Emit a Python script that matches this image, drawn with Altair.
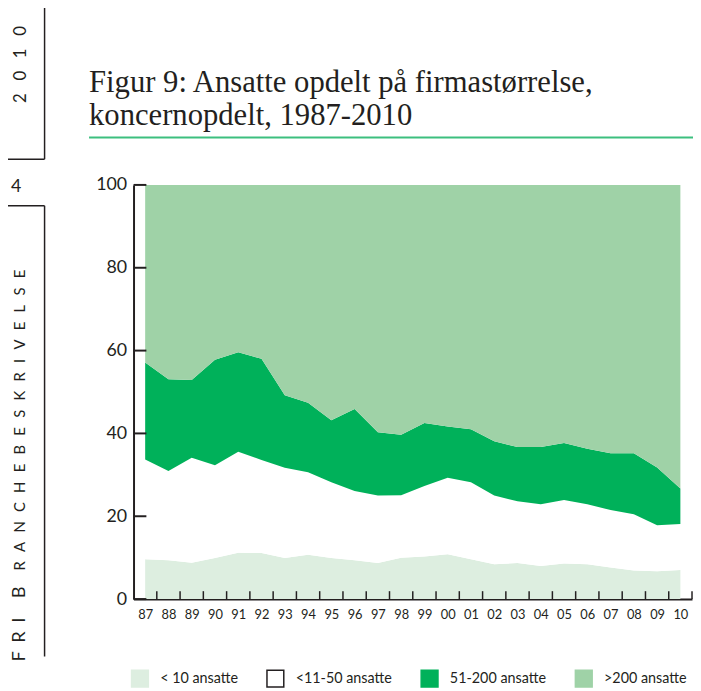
import altair as alt
import pandas as pd

# ---------------- data ----------------
years = ["87", "88", "89", "90", "91", "92", "93", "94", "95", "96", "97", "98",
         "99", "00", "01", "02", "03", "04", "05", "06", "07", "08", "09", "10"]
categories = ["< 10 ansatte", "<11-50 ansatte", "51-200 ansatte", ">200 ansatte"]
colors = ["#ddeee0", "#ffffff", "#00b15a", "#9fd2a7"]

share_lt10 = [9.6, 9.4, 8.8, 9.9, 11.2, 11.1, 9.9, 10.7, 9.9, 9.4, 8.7, 10.0,
              10.3, 10.8, 9.6, 8.4, 8.7, 8.0, 8.6, 8.4, 7.6, 6.9, 6.7, 7.0]
share_11_50 = [24.1, 21.5, 25.3, 22.4, 24.4, 22.5, 21.8, 19.9, 18.3, 16.7, 16.3, 15.1,
               17.0, 18.5, 18.6, 16.6, 14.9, 14.9, 15.3, 14.5, 13.9, 13.6, 11.1, 11.1]
share_51_200 = [23.4, 22.2, 18.8, 25.5, 24.0, 24.4, 17.5, 16.8, 15.0, 19.8, 15.3, 14.6,
                15.2, 12.4, 12.8, 13.1, 13.1, 13.8, 13.8, 13.4, 13.7, 14.7, 14.0, 8.6]
share_gt200 = [42.9, 46.9, 47.1, 42.2, 40.4, 42.0, 50.8, 52.6, 56.8, 54.1, 59.7, 60.3,
               57.5, 58.3, 59.0, 61.9, 63.3, 63.3, 62.3, 63.7, 64.8, 64.8, 68.2, 73.3]
y_ticks = [0, 20, 40, 60, 80, 100]

title_lines = ["Figur 9: Ansatte opdelt på firmastørrelse,", "koncernopdelt, 1987-2010"]
side_year = "2010"
side_page = "4"
side_word_a = "FRI"
side_word_b = "B"
side_word_c = "RANCHEBESKRIVELSE"

# ---------------- tables ----------------
series = [share_lt10, share_11_50, share_51_200, share_gt200]
rows = []
for i, yr in enumerate(years):
    for k, cat in enumerate(categories):
        rows.append({"idx": i, "year": yr, "cat": cat, "ord": k, "share": series[k][i]})
df = pd.DataFrame(rows)
ticks_df = pd.DataFrame({"v": y_ticks})
bounds_df = pd.DataFrame({"b": [i + 0.5 for i in range(len(years))]})

W, H = 565, 419
FONT = "Lato"
INK = "#231f20"

label_expr = "[" + ",".join(f"'{y}'" for y in years) + "][datum.value]"
x_scale = alt.Scale(domain=[-0.5, len(years) - 0.5], nice=False, zero=False)
y_scale = alt.Scale(domain=[0, 100], nice=False)

x_axis = alt.Axis(values=list(range(len(years))), labelExpr=label_expr,
                  ticks=False, grid=False, domainColor=INK, domainWidth=2,
                  labelFont=FONT, labelFontSize=13, labelColor=INK,
                  labelPadding=10, title=None, labelFlush=False)
y_axis = alt.Axis(values=y_ticks, ticks=False, grid=False, domainColor=INK,
                  domainWidth=2, labelFont=FONT, labelFontSize=18,
                  labelColor=INK, labelPadding=7, title=None)

area = alt.Chart(df).mark_area(interpolate="linear").encode(
    x=alt.X("idx:Q", scale=x_scale, axis=x_axis),
    y=alt.Y("share:Q", stack="zero", scale=y_scale, axis=y_axis),
    color=alt.Color("cat:N", scale=alt.Scale(domain=categories, range=colors),
                    legend=alt.Legend(orient="none", legendX=-3, legendY=490,
                                      direction="horizontal", title=None,
                                      symbolType="square", symbolSize=289,
                                      symbolOpacity=1,
                                      symbolStrokeColor={"expr": "datum.value === '<11-50 ansatte' ? '#231f20' : scale('color', datum.value)"},
                                      symbolStrokeWidth=1.5,
                                      labelFont=FONT, labelFontSize=14.5, labelColor=INK,
                                      labelOffset=11, columnPadding=26, padding=0)),
    order=alt.Order("ord:Q", sort="ascending"),
)

ytick_layer = alt.Chart(ticks_df).mark_rule(color=INK, strokeWidth=2).encode(
    y=alt.Y("v:Q", scale=y_scale, axis=y_axis),
    x=alt.value(0), x2=alt.value(13),
)
xtick_layer = alt.Chart(bounds_df).mark_rule(color=INK, strokeWidth=1.5).encode(
    x=alt.X("b:Q", scale=x_scale, axis=x_axis),
    y=alt.value(H), y2=alt.value(H - 8),
)

one = alt.Data(values=[{}])


def text_layer(txt, x, y, size, family=FONT, angle=0):
    return alt.Chart(one).mark_text(
        text=txt, font=family, fontSize=size, color=INK, align="left",
        baseline="alphabetic", angle=angle,
    ).encode(x=alt.value(x), y=alt.value(y))


def rule_layer(x, x2, y, y2, color=INK, width=1.5):
    return alt.Chart(one).mark_rule(color=color, strokeWidth=width).encode(
        x=alt.value(x), x2=alt.value(x2), y=alt.value(y), y2=alt.value(y2))


sp = "\u2002\u2009"
decor = [
    text_layer(title_lines[0], -45, -94, 31, "Liberation Serif"),
    text_layer(title_lines[1], -45, -61, 31, "Liberation Serif"),
    rule_layer(-45, 570, -48, -48, color="#3cbf7f", width=2),
    # left margin decorations
    rule_layer(-90, -90, -180, -26),
    rule_layer(-130, -90, -26, -26),
    rule_layer(-130, -90, 21, 21),
    rule_layer(-90, -90, 21, 477),
    text_layer("\u2003".join(side_year), -109, -83, 17, angle=270),
    text_layer(side_page, -124, 7, 18),
    text_layer("\u2002".join(side_word_a), -110, 482, 18, angle=270),
    text_layer(side_word_b, -110, 418, 18, angle=270),
    text_layer(sp.join(side_word_c), -110, 390, 15, angle=270),
]

chart = alt.layer(area, ytick_layer, xtick_layer, *decor).properties(
    width=W, height=H,
    autosize=alt.AutoSizeParams(type="none"),
    padding={"left": 127, "top": 175, "right": 1, "bottom": 89},
).configure_view(stroke=None)

chart.save("out.html", embed_options={"renderer": "svg", "actions": False})
